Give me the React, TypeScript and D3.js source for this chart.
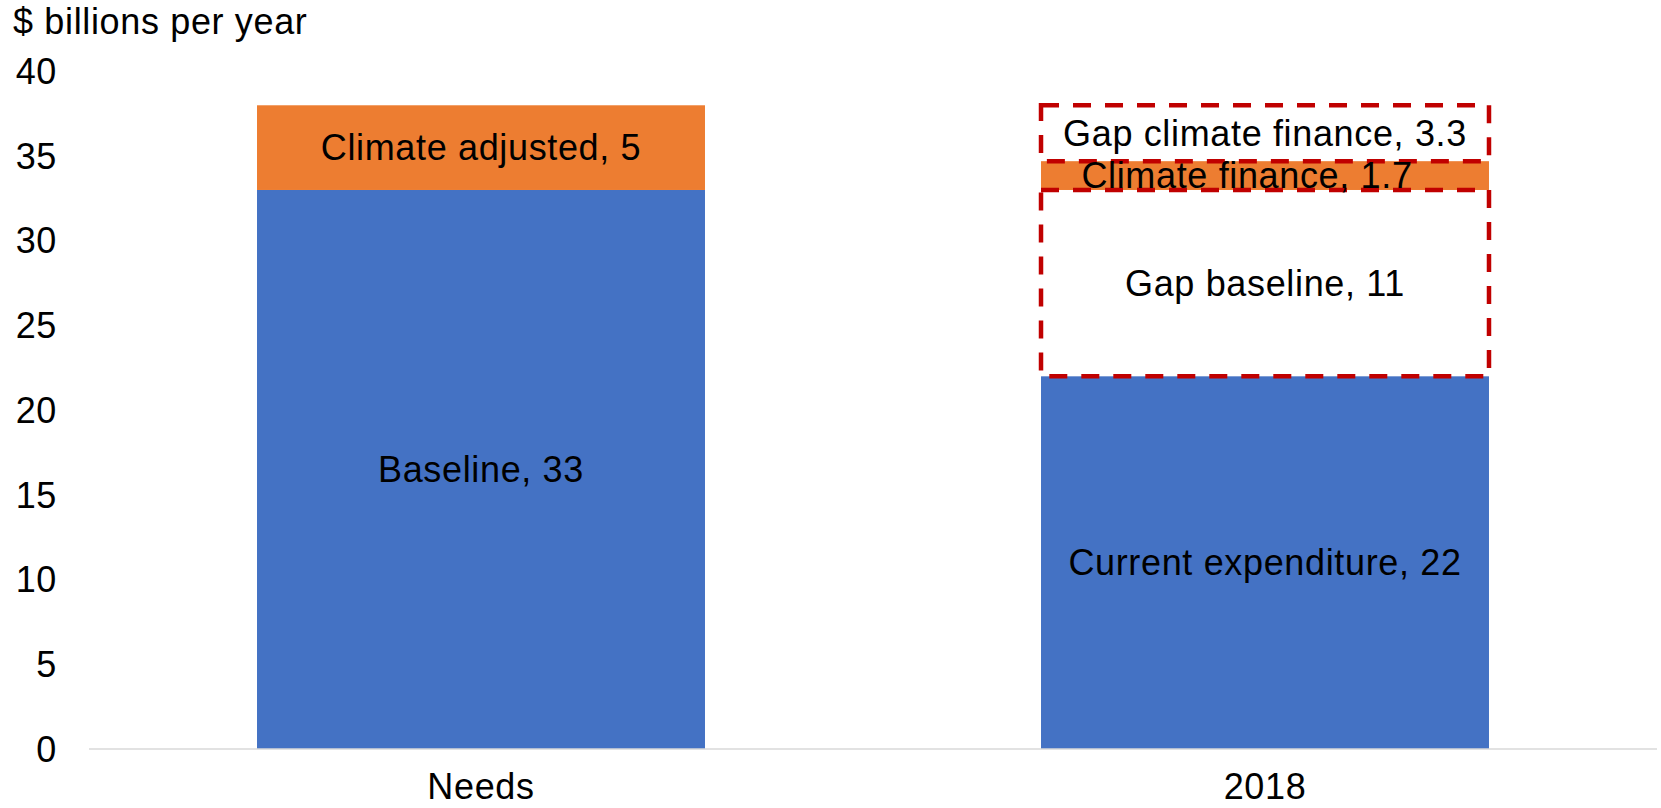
import React from "react";
import * as d3 from "d3";

// Categories on the x axis
const categories = ["Needs", "2018"];

// Stacked series, bottom to top (one value per category)
const baseValues = [33, 22];
const gapBaseValues = [0, 11];
const climateValues = [5, 1.7];
const gapClimateValues = [0, 3.3];

// Segment names per category
const baseNames = ["Baseline", "Current expenditure"];
const gapBaseNames = ["", "Gap baseline"];
const climateNames = ["Climate adjusted", "Climate finance"];
const gapClimateNames = ["", "Gap climate finance"];

const yTicks = [0, 5, 10, 15, 20, 25, 30, 35, 40];
const yTitle = "$ billions per year";

const W = 1661;
const H = 808;
const FONT = "'Liberation Sans', Arial, Helvetica, sans-serif";
const FS = 36;
const LS = 0.65;

type Key = "base" | "gapBase" | "climate" | "gapClimate";
const keys: Key[] = ["base", "gapBase", "climate", "gapClimate"];

const valuesByKey: Record<Key, number[]> = {
  base: baseValues,
  gapBase: gapBaseValues,
  climate: climateValues,
  gapClimate: gapClimateValues,
};
const namesByKey: Record<Key, string[]> = {
  base: baseNames,
  gapBase: gapBaseNames,
  climate: climateNames,
  gapClimate: gapClimateNames,
};

// Visual treatment per series
const styleByKey: Record<Key, { fill: string; dashed: boolean }> = {
  base: { fill: "#4472C4", dashed: false },
  gapBase: { fill: "none", dashed: true },
  climate: { fill: "#ED7D31", dashed: false },
  gapClimate: { fill: "none", dashed: true },
};

export default function App() {
  const rows = categories.map((c, i) => {
    const r: any = { category: c };
    keys.forEach((k) => (r[k] = valuesByKey[k][i]));
    return r;
  });
  const stacked = d3.stack<any, Key>().keys(keys)(rows);

  const x = d3
    .scaleBand<string>()
    .domain(categories)
    .range([89, 1657])
    .paddingInner(0.4286)
    .paddingOuter(0.2143);
  const y = d3.scaleLinear().domain([0, 40]).range([749, 71.4]);

  const bw = x.bandwidth();

  // Small horizontal nudge for the thin orange segment's label
  const labelDx = (k: Key, i: number) => (k === "climate" && i === 1 ? -18 : 0);

  return (
    <svg
      width={W}
      height={H}
      style={{ position: "absolute", left: 0, top: 0, background: "#fff" }}
      fontFamily={FONT}
      letterSpacing={LS}
    >
      {/* filled segments */}
      {stacked.map((s) =>
        styleByKey[s.key as Key].dashed
          ? null
          : s.map((d, i) =>
              d[1] - d[0] > 0 ? (
                <rect
                  key={`${s.key}-${i}`}
                  x={x(categories[i])}
                  y={y(d[1])}
                  width={bw}
                  height={y(d[0]) - y(d[1])}
                  fill={styleByKey[s.key as Key].fill}
                />
              ) : null
            )
      )}

      {/* category axis line */}
      <line x1={89} x2={1657} y1={y(0)} y2={y(0)} stroke="#D9D9D9" strokeWidth={1.5} />

      {/* financing gaps as dashed outlines */}
      {stacked.map((s) =>
        !styleByKey[s.key as Key].dashed
          ? null
          : s.map((d, i) =>
              d[1] - d[0] > 0 ? (
                <rect
                  key={`${s.key}-${i}`}
                  x={x(categories[i])}
                  y={y(d[1])}
                  width={bw}
                  height={y(d[0]) - y(d[1])}
                  fill="none"
                  stroke="#C00000"
                  strokeWidth={4.5}
                  strokeDasharray="18,14"
                />
              ) : null
            )
      )}

      {/* segment labels */}
      {stacked.map((s) =>
        s.map((d, i) => {
          const k = s.key as Key;
          const v = valuesByKey[k][i];
          if (!(v > 0)) return null;
          const cx = (x(categories[i]) as number) + bw / 2 + labelDx(k, i);
          const cy = y((d[0] + d[1]) / 2);
          return (
            <text
              key={`lbl-${k}-${i}`}
              x={cx}
              y={cy + FS * 0.35}
              textAnchor="middle"
              fontSize={FS}
              fill="#000"
            >
              {`${namesByKey[k][i]}, ${v}`}
            </text>
          );
        })
      )}

      {/* y tick labels */}
      {yTicks.map((t) => (
        <text
          key={`yt-${t}`}
          x={57}
          y={y(t) + FS * 0.35}
          textAnchor="end"
          fontSize={FS}
          fill="#000"
        >
          {t}
        </text>
      ))}

      {/* y axis title */}
      <text x={13} y={34} fontSize={FS} fill="#000">
        {yTitle}
      </text>

      {/* category labels */}
      {categories.map((c) => (
        <text
          key={`xc-${c}`}
          x={(x(c) as number) + bw / 2}
          y={799}
          textAnchor="middle"
          fontSize={FS}
          fill="#000"
        >
          {c}
        </text>
      ))}
    </svg>
  );
}
